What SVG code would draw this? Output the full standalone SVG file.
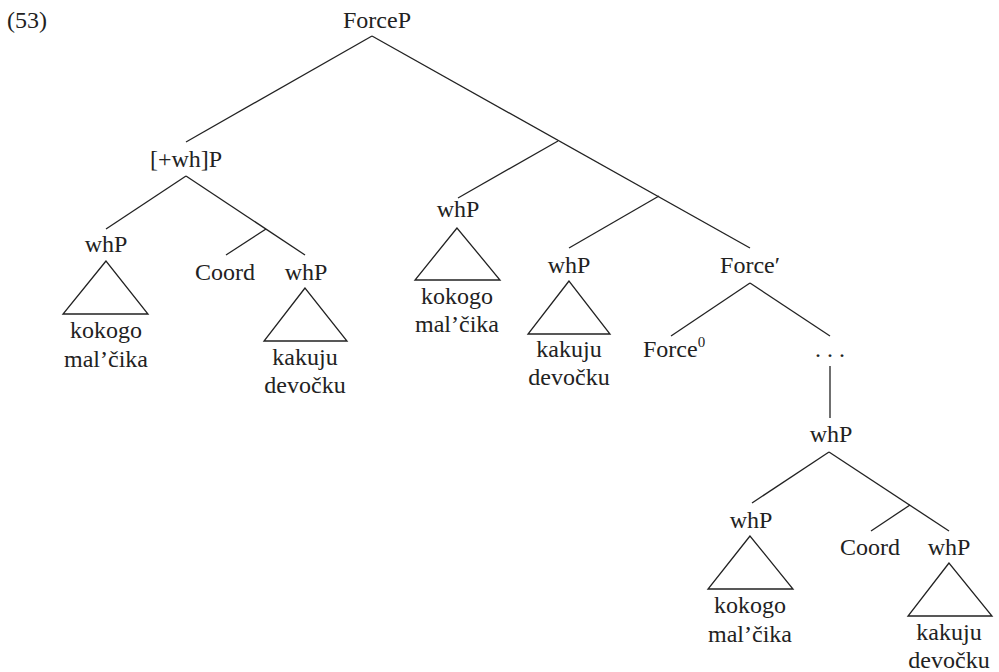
<svg xmlns="http://www.w3.org/2000/svg" width="999" height="672" viewBox="0 0 999 672">
<style>
.e{stroke:#222;stroke-width:1.3;fill:none}
.t{stroke:#222;stroke-width:1.3;fill:none;stroke-linejoin:miter}
</style>
<rect width="999" height="672" fill="#fff"/>
<g font-family="Liberation Serif, Tinos, DejaVu Serif, serif" font-size="24" fill="#222" text-anchor="middle">
<text x="7" y="28" text-anchor="start">(53)</text>
<g id="connectors">
<line class="e" x1="372" y1="36" x2="186" y2="142"/>
<line class="e" x1="372" y1="36" x2="750" y2="248"/>
<line class="e" x1="558" y1="141" x2="458" y2="198"/>
<line class="e" x1="659" y1="196" x2="569" y2="248"/>
<line class="e" x1="186" y1="176" x2="106" y2="229"/>
<line class="e" x1="186" y1="176" x2="305" y2="255"/>
<line class="e" x1="266" y1="229" x2="226" y2="255"/>
<line class="e" x1="750" y1="283" x2="671" y2="336"/>
<line class="e" x1="750" y1="283" x2="830" y2="336"/>
<line class="e" x1="830" y1="366" x2="830" y2="418"/>
<line class="e" x1="829" y1="452" x2="752" y2="503"/>
<line class="e" x1="829" y1="452" x2="949" y2="531"/>
<line class="e" x1="910" y1="505" x2="871" y2="531"/>
</g>
<g id="forceP"><text x="377" y="28">ForceP</text></g>
<g id="whP-bracket"><text x="186" y="167">[+wh]P</text></g>
<g id="whP1"><text x="106" y="252">whP</text>
<polygon class="t" points="106,261 63,314 148,314"/>
<text x="106" y="338">kokogo</text><text x="106" y="367">mal’čika</text></g>
<g id="coord1"><text x="225" y="280">Coord</text></g>
<g id="whP2"><text x="306" y="280">whP</text>
<polygon class="t" points="305,288 264,341 347,341"/>
<text x="305" y="365">kakuju</text><text x="305" y="393">devočku</text></g>
<g id="whP3"><text x="458" y="217">whP</text>
<polygon class="t" points="457,228 415,280 500,280"/>
<text x="457" y="304">kokogo</text><text x="457" y="332">mal’čika</text></g>
<g id="whP4"><text x="569" y="273">whP</text>
<polygon class="t" points="569,281 528,334 610,334"/>
<text x="569" y="357">kakuju</text><text x="569" y="385">devočku</text></g>
<g id="forceBar"><text x="750" y="273">Force′</text></g>
<g id="force0"><text x="643" y="357" text-anchor="start">Force<tspan font-size="15" dy="-10">0</tspan></text></g>
<g id="dots"><text x="830" y="357">. . .</text></g>
<g id="whP5"><text x="831" y="442">whP</text></g>
<g id="whP6"><text x="751" y="528">whP</text>
<polygon class="t" points="750,536 708,589 793,589"/>
<text x="750" y="613">kokogo</text><text x="750" y="642">mal’čika</text></g>
<g id="coord2"><text x="870" y="555">Coord</text></g>
<g id="whP7"><text x="949" y="555">whP</text>
<polygon class="t" points="949,563 908,616 992,616"/>
<text x="949" y="640">kakuju</text><text x="949" y="668">devočku</text></g>
</g>
</svg>
